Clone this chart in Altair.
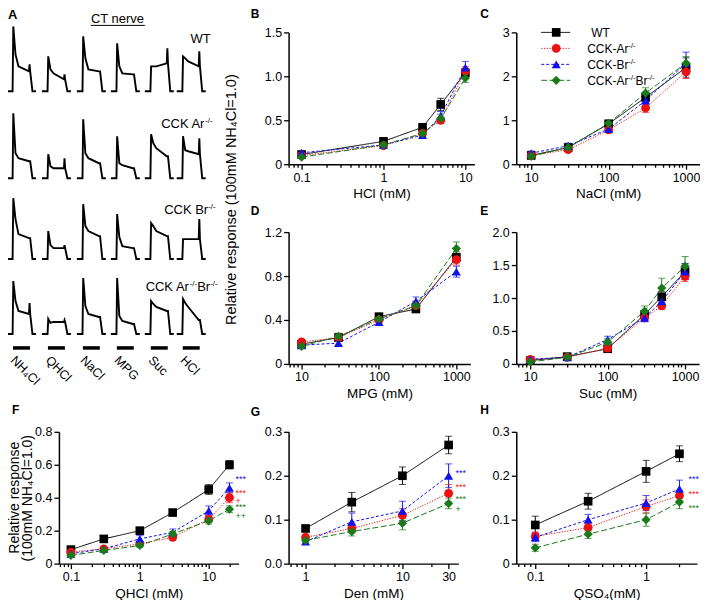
import math
import altair as alt
import pandas as pd

# ---------------- data ----------------
SERIES = ["WT", "CCK-Ar-/-", "CCK-Br-/-", "CCK-Ar-/-Br-/-"]
COLORS = ["#000000", "#ee1111", "#1111ee", "#1a7a1a"]
SHAPES = ["square", "circle", "triangle-up", "diamond"]
DASHES = [[1, 0], [1.2, 1.5], [3, 2], [6, 2.5]]
SIZES = [75, 85, 95, 95]

HCL_X = [0.1, 1, 3, 5, 10]
HCL_MEAN = [[0.11, 0.26, 0.42, 0.68, 1.04], [0.10, 0.21, 0.35, 0.50, 1.06],
            [0.13, 0.22, 0.33, 0.55, 1.10], [0.08, 0.22, 0.35, 0.52, 0.98]]
HCL_ERR = [[0.01, 0.02, 0.02, 0.07, 0.04], [0.01, 0.02, 0.03, 0.03, 0.05],
           [0.02, 0.02, 0.03, 0.05, 0.07], [0.01, 0.02, 0.03, 0.05, 0.05]]

NACL_X = [10, 30, 100, 300, 1000]
NACL_MEAN = [[0.20, 0.38, 0.92, 1.52, 2.20], [0.20, 0.33, 0.78, 1.28, 2.10],
             [0.25, 0.42, 0.80, 1.45, 2.30], [0.18, 0.38, 0.93, 1.62, 2.30]]
NACL_ERR = [[0.03, 0.04, 0.06, 0.10, 0.22], [0.03, 0.04, 0.06, 0.10, 0.15],
            [0.05, 0.06, 0.08, 0.12, 0.25], [0.03, 0.05, 0.07, 0.12, 0.15]]

MPG_X = [10, 30, 100, 300, 1000]
MPG_MEAN = [[0.18, 0.24, 0.43, 0.50, 0.97], [0.20, 0.24, 0.40, 0.53, 0.95],
            [0.17, 0.19, 0.38, 0.57, 0.84], [0.16, 0.25, 0.41, 0.53, 1.05]]
MPG_ERR = [[0.02, 0.02, 0.03, 0.03, 0.05], [0.02, 0.02, 0.03, 0.04, 0.05],
           [0.02, 0.02, 0.03, 0.04, 0.05], [0.02, 0.03, 0.03, 0.04, 0.06]]

SUC_X = [10, 30, 100, 300, 500, 1000]
SUC_MEAN = [[0.05, 0.11, 0.23, 0.75, 1.02, 1.40], [0.07, 0.10, 0.24, 0.70, 0.88, 1.33],
            [0.07, 0.10, 0.37, 0.70, 0.95, 1.40], [0.03, 0.10, 0.33, 0.80, 1.15, 1.48]]
SUC_ERR = [[0.02, 0.03, 0.04, 0.06, 0.08, 0.12], [0.02, 0.03, 0.04, 0.05, 0.05, 0.08],
           [0.03, 0.03, 0.05, 0.06, 0.07, 0.12], [0.02, 0.03, 0.05, 0.08, 0.15, 0.15]]

QHCL_X = [0.1, 0.3, 1, 3, 10, 20]
QHCL_MEAN = [[0.085, 0.15, 0.20, 0.31, 0.45, 0.60], [0.07, 0.09, 0.12, 0.16, 0.27, 0.40],
             [0.06, 0.09, 0.15, 0.19, 0.32, 0.46], [0.05, 0.08, 0.11, 0.18, 0.26, 0.33]]
QHCL_ERR = [[0.01, 0.01, 0.01, 0.01, 0.03, 0.025], [0.01, 0.01, 0.01, 0.015, 0.02, 0.03],
            [0.01, 0.01, 0.02, 0.02, 0.03, 0.03], [0.01, 0.01, 0.01, 0.015, 0.02, 0.02]]
QHCL_STARS = [("***", 0.515, 2), ("***", 0.43, 1), ("+", 0.38, 1), ("***", 0.342, 3), ("++", 0.292, 3)]

DEN_X = [1, 3, 10, 30]
DEN_MEAN = [[0.08, 0.14, 0.20, 0.27], [0.06, 0.08, 0.11, 0.16],
            [0.05, 0.095, 0.12, 0.20], [0.053, 0.073, 0.092, 0.137]]
DEN_ERR = [[0.005, 0.022, 0.02, 0.02], [0.005, 0.01, 0.015, 0.02],
           [0.006, 0.02, 0.022, 0.027], [0.005, 0.01, 0.015, 0.012]]
DEN_STARS = [("***", 0.207, 2), ("***", 0.175, 1), ("***", 0.148, 3), ("+", 0.125, 3)]

QSO4_X = [0.1, 0.3, 1, 2]
QSO4_MEAN = [[0.088, 0.142, 0.21, 0.25], [0.062, 0.082, 0.13, 0.155],
             [0.06, 0.10, 0.138, 0.17], [0.036, 0.067, 0.10, 0.14]]
QSO4_ERR = [[0.02, 0.018, 0.025, 0.018], [0.01, 0.01, 0.015, 0.012],
            [0.01, 0.012, 0.017, 0.02], [0.008, 0.01, 0.015, 0.015]]
QSO4_STARS = [("***", 0.193, 2), ("***", 0.159, 1), ("***", 0.127, 3)]

# CT nerve traces: per stimulus [peak, early, plateau start, plateau end, end spike]
STIMULI = ["NH\u2084Cl", "QHCl", "NaCl", "MPG", "Suc", "HCl"]
STIM_ONSET = [14, 49, 84, 118, 152, 184]
STIM_LEN = 17
TRACE_WT = [[65, 37, 25, 20, 27], [35, 22, 18, 12, 17], [55, 33, 22, 20, 0],
            [48, 25, 18, 17, 0], [25, 25, 25, 28, 43], [35, 33, 30, 25, 40]]
TRACE_AR = [[65, 25, 20, 17, 0], [24, 12, 10, 10, 20], [59, 25, 20, 15, 0],
            [42, 15, 13, 10, 0], [44, 35, 30, 22, 0], [42, 28, 27, 24, 40]]
TRACE_BR = [[61, 40, 25, 21, 0], [28, 14, 11, 11, 14], [55, 33, 28, 23, 0],
            [45, 22, 13, 11, 0], [36, 33, 28, 23, 0], [20, 20, 20, 20, 40]]
TRACE_ARBR = [[53, 33, 23, 20, 31], [15, 11, 12, 12, 14], [56, 28, 20, 17, 0],
              [56, 18, 13, 10, 0], [33, 30, 27, 23, 0], [35, 31, 27, 14, 0]]

FONT = "Liberation Sans"
PH = 132
LABEL_FS = 12.5
TITLE_FS = 13.5

# ---------------- helpers ----------------
AW = {'C': 722, 'K': 667, ' ': 278, 'A': 667, 'r': 333, 'B': 667, '-': 333, '/': 278,
      'W': 944, 'T': 611}


def tw(s, fs):
    return sum(AW.get(c, 556) for c in s) * fs / 1000.0


def rich(pieces, x, y, fs, sfs, align="left", rise=5):
    total = sum(tw(t, sfs if sup else fs) for t, sup in pieces)
    cx = x - total if align == "right" else x
    rows = []
    for t, sup in pieces:
        f = sfs if sup else fs
        rows.append({"px": cx, "py": y - (rise if sup else 0), "text": t, "fs": f})
        cx += tw(t, f)
    return rows


def num_expr(vals, labels):
    expr = "''"
    for v, l in reversed(list(zip(vals, labels))):
        tol = max(abs(v) * 1e-6, 1e-9)
        expr = f"abs(datum.value - {v}) < {tol} ? '{l}' : {expr}"
    return expr


def log_ticks(lo, hi):
    out = []
    for d in range(math.floor(math.log10(lo)), math.ceil(math.log10(hi)) + 1):
        for k in range(1, 10):
            v = float(f"{k * 10.0 ** d:.10g}")
            if lo <= v <= hi:
                out.append(v)
    return out


AXIS_STYLE = dict(domainColor="black", domainWidth=1.5, tickColor="black", tickWidth=1.3,
                  labelColor="black", titleColor="black", labelFont=FONT, titleFont=FONT,
                  labelFontSize=LABEL_FS, titleFontSize=TITLE_FS, titleFontWeight="normal",
                  grid=False, labelPadding=2, titlePadding=3, labelOverlap=False)

COLOR = alt.Color("series:N", scale=alt.Scale(domain=SERIES, range=COLORS), legend=None)
SHAPE = alt.Shape("series:N", scale=alt.Scale(domain=SERIES, range=SHAPES), legend=None)
DASH = alt.StrokeDash("series:N", scale=alt.Scale(domain=SERIES, range=DASHES), legend=None)
SIZE = alt.Size("series:O", scale=alt.Scale(domain=SERIES, range=SIZES), legend=None)


def panel(x, means, errs, xdom, xmaj, xlab, xtitle, ydom, ytk, ylab, width,
          letter, ldx, ldy, yextra=None, stars=None, stars_dx=7, side_text=None):
    rows, caps = [], []
    for s, m, e in zip(SERIES, means, errs):
        for xv, mv, ev in zip(x, m, e):
            rows.append({"series": s, "x": xv, "y": mv, "lo": mv - ev, "hi": mv + ev})
            caps.append({"series": s, "x": xv, "y": mv - ev})
            caps.append({"series": s, "x": xv, "y": mv + ev})
    df = pd.DataFrame(rows)
    cdf = pd.DataFrame(caps)
    xs = alt.Scale(type="log", domain=xdom, nice=False)
    ys = alt.Scale(domain=ydom, nice=False, zero=False)
    major_test = " || ".join(f"abs(datum.value - {v}) < {v * 1e-6}" for v in xmaj)
    xa = alt.Axis(values=log_ticks(*xdom), labelExpr=num_expr(xmaj, xlab), title=xtitle,
                  tickSize={"condition": {"test": major_test, "value": 5}, "value": 3},
                  labelFlush=False, **AXIS_STYLE)
    yk = dict(AXIS_STYLE)
    yk.update(values=ytk, labelExpr=num_expr(ytk, ylab), tickSize=5, title="")
    if yextra:
        yk.update(yextra)
    ya = alt.Axis(**yk)
    X = alt.X("x:Q", scale=xs, axis=xa)
    Y = alt.Y("y:Q", scale=ys, axis=ya)
    base = alt.Chart(df)
    lines = base.mark_line(strokeWidth=1).encode(X, Y, color=COLOR, strokeDash=DASH, detail="series:N")
    ebar = base.mark_rule(strokeWidth=1).encode(X, alt.Y("lo:Q", scale=ys, axis=ya), y2="hi:Q", color=COLOR)
    ecap = alt.Chart(cdf).mark_tick(orient="horizontal", size=7, thickness=1).encode(X, Y, color=COLOR)
    pts = base.mark_point(filled=True, opacity=1).encode(X, Y, color=COLOR, shape=SHAPE, size=SIZE)
    lab = alt.Chart(pd.DataFrame({"t": [letter]})).mark_text(
        fontWeight="bold", fontSize=12, align="left", baseline="alphabetic", font=FONT
    ).encode(text="t:N", x=alt.value(ldx), y=alt.value(ldy))
    layers = [lines, ebar, ecap, pts, lab]
    if side_text:
        txt, sx, sy, sfs = side_text
        layers.append(alt.Chart(pd.DataFrame({"t": [txt]})).mark_text(
            angle=270, align="center", baseline="middle", fontSize=sfs, font=FONT, color="black"
        ).encode(text="t:N", x=alt.value(sx), y=alt.value(sy)))
    if stars:
        sdf = pd.DataFrame([{"x": x[-1], "y": yv, "text": t, "series": SERIES[si]} for t, yv, si in stars])
        layers.append(alt.Chart(sdf).mark_text(align="left", baseline="middle", dx=stars_dx,
                                               fontSize=9, font=FONT).encode(X, Y, text="text:N", color=COLOR))
    return alt.layer(*layers).properties(width=width, height=PH)


# ---------------- panel A (CT nerve traces) ----------------
T_TIMES = [-6, -0.4, 0.3, 2.5, 5.5, 16, 16.6, 17.2, 19.5, 23]


def trace_rows(name, base_y, traces):
    out = []
    for k, (onset, p) in enumerate(zip(STIM_ONSET, traces)):
        peak, early, p1, p2, sp = p
        amps = [0, 0, peak, early, p1, p2, sp if sp else p2, p2, 0, 0]
        for i, (t, a) in enumerate(zip(T_TIMES, amps)):
            out.append({"seg": f"{name}{k}", "i": i, "px": onset + t, "py": base_y - a})
    return out


def a_chart(ydom, trace_sets, texts, rules, bold=None, angled=None):
    xs = alt.Scale(domain=[60, 248], nice=False, zero=False)
    ys = alt.Scale(domain=ydom, reverse=True, nice=False, zero=False)
    XA = alt.X("px:Q", scale=xs, axis=None)
    YA = alt.Y("py:Q", scale=ys, axis=None)
    rows = []
    for name, by, tr in trace_sets:
        rows += trace_rows(name, by, tr)
    tdf = pd.DataFrame(rows)
    layers = [alt.Chart(tdf).mark_line(color="black", strokeWidth=1.9).encode(
        XA, YA, detail="seg:N", order="i:Q")]
    if rules:
        layers.append(alt.Chart(pd.DataFrame(rules)).mark_rule(color="black").encode(
            XA, YA, x2="px2:Q", strokeWidth=alt.StrokeWidth("sw:Q", scale=None)))
    if texts:
        layers.append(alt.Chart(pd.DataFrame(texts)).mark_text(
            align="left", baseline="alphabetic", font=FONT, color="black").encode(
            XA, YA, text="text:N", size=alt.Size("fs:Q", scale=None)))
    if bold:
        layers.append(alt.Chart(pd.DataFrame(bold)).mark_text(
            align="left", baseline="alphabetic", font=FONT, color="black", fontWeight="bold",
            fontSize=13).encode(XA, YA, text="text:N"))
    if angled:
        layers.append(alt.Chart(pd.DataFrame(angled)).mark_text(
            align="left", baseline="top", angle=45, font=FONT, fontSize=12.5, color="black").encode(
            XA, YA, text="text:N"))
    return alt.layer(*layers).properties(width=188, height=PH)


top_texts = [{"px": 92, "py": 21.5, "text": "CT nerve", "fs": 13}]
top_texts += rich([("WT", False)], 212, 42, 13, 8, align="right")
top_texts += rich([("CCK Ar", False), ("-/-", True)], 214, 127, 13, 8, align="right")
bot_texts = []
bot_texts += rich([("CCK Br", False), ("-/-", True)], 217, 213, 13, 8, align="right")
bot_texts += rich([("CCK Ar", False), ("-/-", True), ("Br", False), ("-/-", True)], 219, 290, 13, 8,
                  align="right")

A_top = a_chart([31, 31 + PH], [("wt", 90, TRACE_WT), ("ar", 177, TRACE_AR)], top_texts,
                [{"px": 92, "px2": 146, "py": 24, "sw": 1}],
                bold=[{"px": 9, "py": 18, "text": "A"}])
A_bot = a_chart([231, 231 + PH], [("br", 258, TRACE_BR), ("arbr", 333, TRACE_ARBR)], bot_texts,
                [{"px": s, "px2": s + STIM_LEN, "py": 347, "sw": 3.5} for s in STIM_ONSET],
                angled=[{"px": s + 4, "py": 353, "text": t} for s, t in zip(STIM_ONSET, STIMULI)])

# ---------------- panels B-H ----------------
SHARED_TITLE = dict(title="Relative response (100mM NH\u2084Cl=1.0)", titleX=-57, titleY=167,
                    titleAngle=270, titleAlign="center", titleBaseline="middle", titleFontSize=14.5)
F_TITLE = dict(title="(100mM NH\u2084Cl=1.0)", titleX=-31, titleY=66,
               titleAngle=270, titleAlign="center", titleBaseline="middle", titleFontSize=14)

B = panel(HCL_X, HCL_MEAN, HCL_ERR, [0.0694, 12.87], [0.1, 1, 10], ["0.1", "1", "10"], "HCl (mM)",
          [0, 1.5], [0, 0.5, 1.0, 1.5], ["0", "0.5", "1.0", "1.5"], 186, "B", -38, -14, yextra=SHARED_TITLE)
C = panel(NACL_X, NACL_MEAN, NACL_ERR, [6.40, 1515], [10, 100, 1000], ["10", "100", "1000"], "NaCl (mM)",
          [0, 3], [0, 1, 2, 3], ["0", "1", "2", "3"], 184, "C", -36, -14)
D = panel(MPG_X, MPG_MEAN, MPG_ERR, [6.80, 1515], [10, 100, 1000], ["10", "100", "1000"], "MPG (mM)",
          [0, 1.2], [0, 0.4, 0.8, 1.2], ["0", "0.4", "0.8", "1.2"], 182, "D", -38, -17)
E = panel(SUC_X, SUC_MEAN, SUC_ERR, [6.60, 1515], [10, 100, 1000], ["10", "100", "1000"], "Suc (mM)",
          [0, 2], [0, 0.5, 1.0, 1.5, 2.0], ["0", "0.5", "1.0", "1.5", "2.0"], 183, "E", -36, -17)
F = panel(QHCL_X, QHCL_MEAN, QHCL_ERR, [0.067, 27.2], [0.1, 1, 10], ["0.1", "1", "10"], "QHCl (mM)",
          [0, 0.8], [0, 0.2, 0.4, 0.6, 0.8], ["0", "0.2", "0.4", "0.6", "0.8"], 180, "F", -47, -18,
          yextra=F_TITLE, stars=QHCL_STARS, stars_dx=6, side_text=("Relative response", -44, 66, 14))
G = panel(DEN_X, DEN_MEAN, DEN_ERR, [0.668, 37.8], [1, 10, 30], ["1", "10", "30"], "Den (mM)",
          [0, 0.3], [0, 0.1, 0.2, 0.3], ["0.0", "0.1", "0.2", "0.3"], 170, "G", -38, -16,
          stars=DEN_STARS, stars_dx=7)
H = panel(QSO4_X, QSO4_MEAN, QSO4_ERR, [0.0674, 2.88], [0.1, 1], ["0.1", "1"], "QSO\u2084(mM)",
          [0, 0.3], [0, 0.1, 0.2, 0.3], ["0", "0.1", "0.2", "0.3"], 181, "H", -36, -18,
          stars=QSO4_STARS, stars_dx=9)

# legend inside panel C (pixel space of the C view)
ldf = pd.DataFrame([{"series": s, "ly": 16 * i, "x1": 25, "x2": 54, "mx": 40} for i, s in enumerate(SERIES)])
PXS = alt.Scale(domain=[0, 184], range=[0, 184], nice=False, zero=False)
PYS = alt.Scale(domain=[0, PH], range=[0, PH], nice=False, zero=False)
leg_line = alt.Chart(ldf).mark_rule(strokeWidth=1).encode(
    x=alt.X("x1:Q", scale=PXS, axis=None), x2="x2:Q", y=alt.Y("ly:Q", scale=PYS, axis=None),
    color=COLOR, strokeDash=DASH)
leg_pt = alt.Chart(ldf).mark_point(filled=True, opacity=1).encode(
    x=alt.X("mx:Q", scale=PXS, axis=None), y=alt.Y("ly:Q", scale=PYS, axis=None),
    color=COLOR, shape=SHAPE, size=SIZE)
leg_txt_rows = []
leg_txt_rows += rich([("WT", False)], 75, 4.5, 12, 7.5)
leg_txt_rows += rich([("CCK-Ar", False), ("-/-", True)], 71, 20.5, 12, 7.5, rise=4.5)
leg_txt_rows += rich([("CCK-Br", False), ("-/-", True)], 71, 36.5, 12, 7.5, rise=4.5)
leg_txt_rows += rich([("CCK-Ar", False), ("-/-", True), ("Br", False), ("-/-", True)], 71, 52.5, 12, 7.5,
                     rise=4.5)
leg_txt = alt.Chart(pd.DataFrame(leg_txt_rows)).mark_text(
    align="left", baseline="alphabetic", font=FONT, color="black").encode(
    x=alt.X("px:Q", scale=PXS, axis=None), y=alt.Y("py:Q", scale=PYS, axis=None),
    text="text:N", size=alt.Size("fs:Q", scale=None))
legend = alt.layer(leg_line, leg_pt, leg_txt)
C = alt.layer(C, legend).resolve_scale(x="independent", y="independent").properties(width=184, height=PH)

chart = alt.concat(A_top, B, C, A_bot, D, E, F, G, H, columns=3).properties(
    bounds="flush", spacing={"row": 68, "column": 42},
    padding={"left": -5, "top": 0, "right": 0, "bottom": 0}
).configure_view(stroke=None).configure_text(font=FONT)

chart.save("out.html", embed_options={"renderer": "svg", "actions": False})
